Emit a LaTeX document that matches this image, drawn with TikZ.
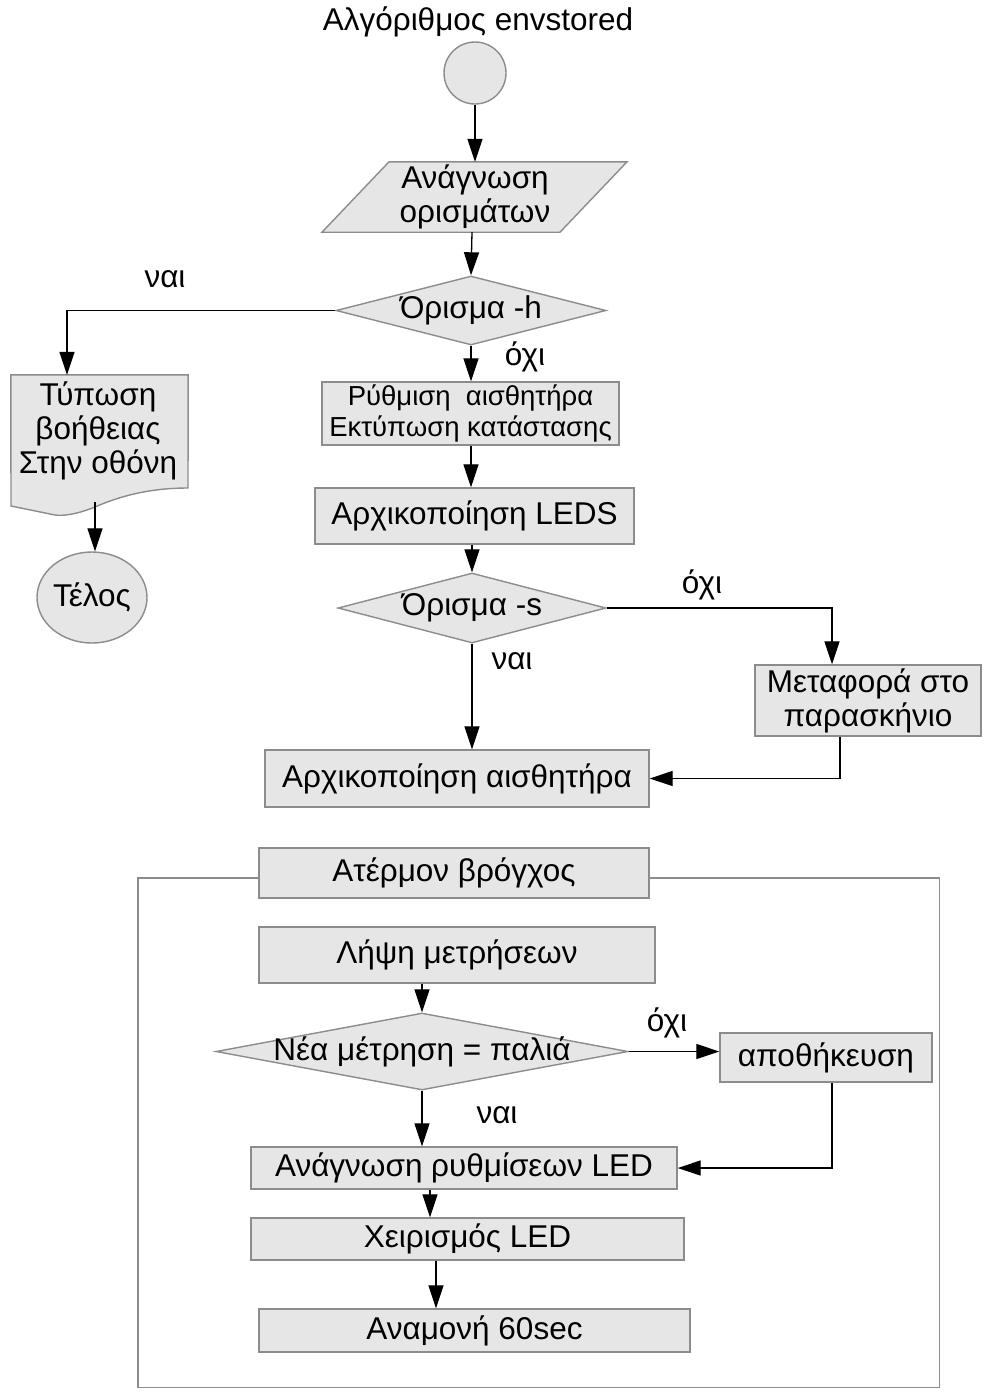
\documentclass[tikz,border=0pt]{standalone}
\usepackage{fontspec}
\setmainfont{Liberation Sans}
\usetikzlibrary{arrows.meta,shapes.geometric}
\definecolor{shapefill}{HTML}{E6E6E6}
\definecolor{shapeline}{HTML}{8C8C8C}
\tikzset{
  shp/.style={draw=shapeline, fill=shapefill, line width=1.4pt},
  box/.style={shp, rectangle, inner sep=0pt, align=center},
  txt/.style={inner sep=0pt, align=center},
  dec/.style={shp, diamond, inner sep=0pt},
  flow/.style={draw=black, line width=1.3pt, -{Triangle[length=23pt,width=15pt]}},
  lbl/.style={inner sep=0pt},
}
\begin{document}
\begin{tikzpicture}[x=1pt,y=-1pt, font=\fontsize{31.5}{34}\selectfont]
\useasboundingbox (0,0) rectangle (985,1393);

% title and start
\node[txt] (title) at (478,22) {Αλγόριθμος envstored};
\node[shp, circle, minimum size=62pt, inner sep=0pt] (start) at (475,73) {};

% read arguments (input parallelogram)
\node[txt, minimum width=170pt, minimum height=70pt] (read) at (474,197) {};
\draw[shp] ([xshift=-85pt]read.north) -- ([xshift=153pt]read.north)
  -- ([xshift=86pt]read.south) -- ([xshift=-152pt]read.south) -- cycle;
\node[txt] at (475,197) {Ανάγνωση\\ορισμάτων};

% option -h
\node[dec, minimum width=270pt, minimum height=69pt, label={center:Όρισμα -h}] (opth) at (471,310.5) {};

% help printout (document shape)
\node[txt, minimum width=177pt, minimum height=133pt] (help) at (99.5,441.5) {};
\draw[shp] (help.north west) -- (help.north east) -- (188,488)
  .. controls (150,488) and (120,496) .. (95,507)
  .. controls (75,515) and (62,516) .. (55,515)
  -- (11,506) -- cycle;
\node[txt] at (98,431) {Τύπωση\\βοήθειας\\Στην οθόνη};

\node[shp, ellipse, minimum width=108pt, minimum height=91pt, inner sep=0pt] (end) at (92,597.5) {Τέλος};

% main sequence
\node[box, minimum width=297pt, minimum height=63pt, font=\fontsize{27.5}{31}\selectfont] (setup) at (470.5,413.5) {Ρύθμιση\ \ αισθητήρα\\Εκτύπωση κατάστασης};
\node[box, minimum width=319pt, minimum height=56pt] (leds) at (474.5,516) {Αρχικοποίηση LEDS};
\node[dec, minimum width=268pt, minimum height=70pt, label={center:Όρισμα -s}] (opts) at (472,608) {};
\node[box, minimum width=226pt, minimum height=71pt] (bg) at (868,700.5) {Μεταφορά στο\\παρασκήνιο};
\node[box, minimum width=384pt, minimum height=57pt] (sensor) at (457,778.5) {Αρχικοποίηση αισθητήρα};

% infinite loop frame
\node[txt, minimum width=801pt, minimum height=509pt] (frame) at (538.5,1132.5) {};
\draw[shp, fill=none] (frame.north west) rectangle (frame.south east);
\node[box, minimum width=390pt, minimum height=50pt] (loop) at (454,873) {Ατέρμον βρόγχος};

\node[box, minimum width=396pt, minimum height=56pt] (meas) at (457,955) {Λήψη μετρήσεων};
\node[dec, minimum width=412pt, minimum height=77pt, label={center:Νέα μέτρηση = παλιά}] (same) at (422,1051.5) {};
\node[box, minimum width=212pt, minimum height=49pt] (store) at (826,1057.5) {αποθήκευση};
\node[box, minimum width=426pt, minimum height=42pt] (rdled) at (464,1168) {Ανάγνωση ρυθμίσεων LED};
\node[box, minimum width=433pt, minimum height=42pt] (ctl) at (467.5,1239) {Χειρισμός LED};
\node[box, minimum width=431pt, minimum height=43pt] (wait) at (474.5,1330.5) {Αναμονή 60sec};

% connectors
\draw[flow] (start.south) -- (start.south |- read.north);
\draw[flow] ([xshift=-2pt]read.south) -- (opth.north);
\draw[flow] (opth.west) -| (help.north -| 67,0);
\draw[flow] (opth.south) -- (opth.south |- setup.north);
\draw[flow] (help.south -| 95,0) ++(0,-6) -- (end.north -| 95,0);
\draw[flow] (setup.south -| opth.south) -- (leds.north -| opth.south);
\draw[flow] (leds.south -| opts.north) -- (opts.north);
\draw[flow] (opts.east) -| (bg.north -| 832,0);
\draw[flow] (opts.south) -- (opts.south |- sensor.north);
\draw[flow] (bg.south -| 840,0) |- (sensor.east);
\draw[flow] (meas.south -| same.north) -- (same.north);
\draw[flow] (same.east) -- (store.west |- same.east);
\draw[flow] (same.south) -- (same.south |- rdled.north);
\draw[flow] (store.south -| 832,0) |- (rdled.east);
\draw[flow] (rdled.south -| 430,0) -- (ctl.north -| 430,0);
\draw[flow] (ctl.south -| 436,0) -- (wait.north -| 436,0);

% branch labels
\node[lbl] at (165,279) {ναι};
\node[lbl] at (525,357) {όχι};
\node[lbl] at (702,585) {όχι};
\node[lbl] at (512,661) {ναι};
\node[lbl] at (667,1023) {όχι};
\node[lbl] at (497,1115) {ναι};
\end{tikzpicture}
\end{document}
